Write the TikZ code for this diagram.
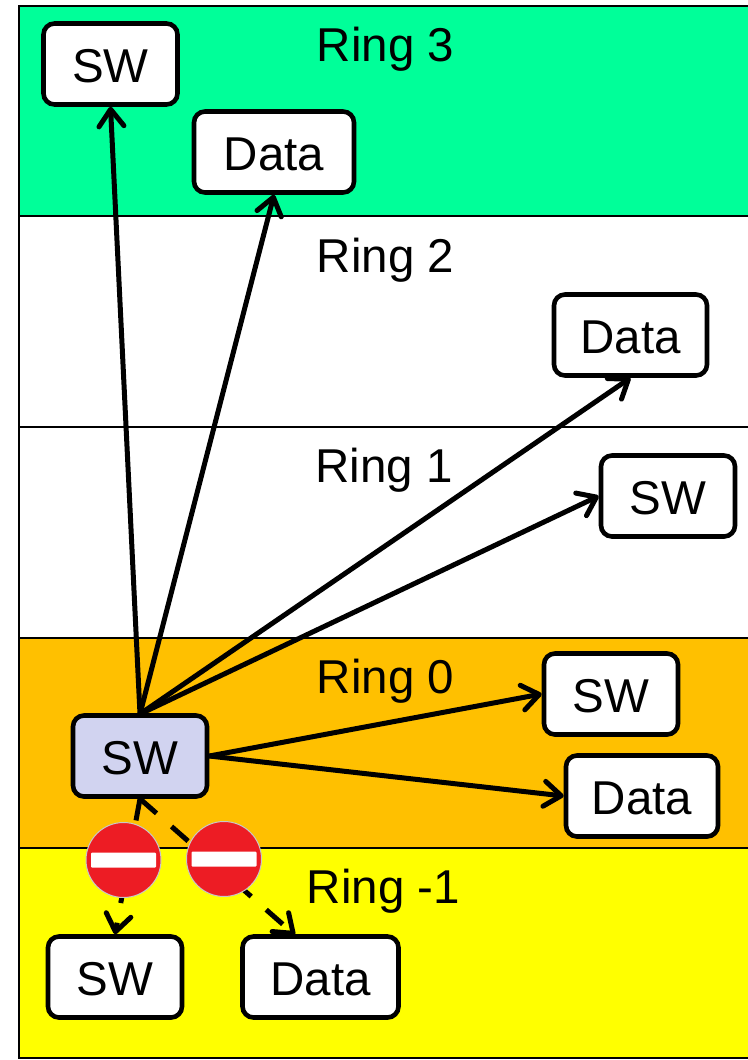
\documentclass[tikz,border=0pt]{standalone}
\usepackage{fontspec}
\setmainfont{Liberation Sans}
\usetikzlibrary{arrows.meta}
\definecolor{ringgreen}{RGB}{0,255,153}
\definecolor{ringorange}{RGB}{255,192,0}
\definecolor{ringyellow}{RGB}{255,255,0}
\definecolor{mainbox}{RGB}{209,211,240}
\definecolor{signred}{RGB}{237,28,36}
\definecolor{signrim}{RGB}{200,200,200}
\tikzset{
 tiphead/.tip={Straight Barb[length=17pt,width=25pt,line width=5pt,round]}
}
\begin{document}
\begin{tikzpicture}[x=1pt,y=-1pt,
 band/.style={draw=black,line width=1.8pt},
 box/.style={draw=black,fill=white,line width=4.6pt,rounded corners=11pt,minimum height=81pt,inner sep=0pt,anchor=center,text height=36pt,text depth=0pt,font=\fontsize{47.5}{48}\selectfont},
 lbl/.style={font=\fontsize{47.5}{48}\selectfont,inner sep=0pt,anchor=center},
 arr/.style={line width=5pt,-tiphead},
 darr/.style={arr,dash pattern=on 22pt off 20pt},
 signdisc/.style={circle,draw=signrim,line width=1pt,fill=signred,minimum size=75pt,inner sep=0pt},
 signbar/.style={fill=white,rounded corners=1pt,minimum width=65pt,minimum height=15pt,inner sep=0pt}]
\useasboundingbox (0,0) rectangle (747,1060);
\fill[white] (0,0) rectangle (747,1060);
\path[band,fill=ringgreen] (19,6) rectangle (760,216);
\path[band,fill=white] (19,216) rectangle (760,427);
\path[band,fill=white] (19,427) rectangle (760,638);
\path[band,fill=ringorange] (19,638) rectangle (760,848);
\path[band,fill=ringyellow] (19,848) rectangle (760,1058);
\node[lbl] (r3) at (385.5,49) {Ring 3};
\node[lbl] (r2) at (385.5,260) {Ring 2};
\node[lbl] (r1) at (384,470) {Ring 1};
\node[lbl] (r0) at (385.5,681) {Ring 0};
\node[lbl] (rm) at (383.5,891) {Ring -1};
\node[box,minimum width=134pt] (sw3) at (110.5,64) {SW};
\node[box,minimum width=160pt] (d3) at (274,152) {Data};
\node[box,minimum width=153pt] (d2) at (630.5,335) {Data};
\node[box,minimum width=134pt] (sw1) at (668,496) {SW};
\node[box,minimum width=134pt] (sw0) at (611,694) {SW};
\node[box,minimum width=152pt] (d0) at (642,796) {Data};
\node[box,minimum width=134pt,fill=mainbox] (m) at (140,756) {SW};
\node[box,minimum width=134pt] (swm) at (115,977) {SW};
\node[box,minimum width=156pt] (dm) at (320.5,977) {Data};
\coordinate (c) at (140,714);
\coordinate (dmt) at (295,935);
\draw[arr] (c) -- (sw3.south);
\draw[arr] (c) -- (d3.south);
\draw[arr] (c) -- (d2.south);
\draw[arr] (c) -- (sw1.west);
\draw[arr] (m.east) -- (sw0.west);
\draw[arr] (m.east) -- (d0.west);
\draw[darr] (m.south) -- (swm.north);
\draw[darr] (m.south) -- (dmt);
\node[signdisc] (s1) at (123.5,860) {};
\node[signbar] (s1b) at (123.5,860) {};
\node[signdisc] (s2) at (224,859) {};
\node[signbar] (s2b) at (224,859) {};
\end{tikzpicture}
\end{document}
